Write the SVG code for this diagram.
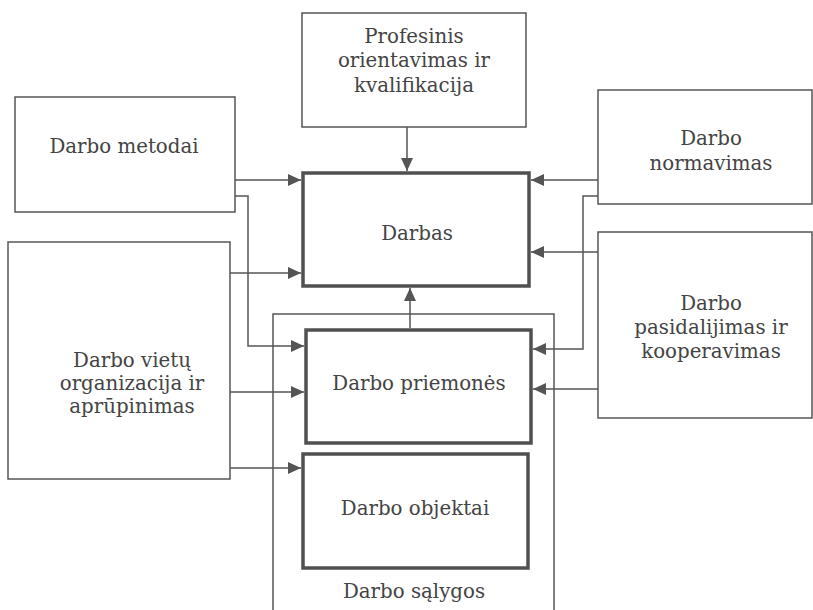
<svg xmlns="http://www.w3.org/2000/svg" width="813" height="610" viewBox="0 0 813 610">
<style>
.box{fill:none;stroke:#555;stroke-width:1.5}
.thick{fill:none;stroke:#505050;stroke-width:3.5}
.c{fill:none;stroke:#555;stroke-width:1.5}
text{font-family:"DejaVu Serif","Liberation Serif",serif;font-size:19.8px;fill:#444;text-anchor:middle}
</style>
<defs>
<marker id="a" markerUnits="userSpaceOnUse" markerWidth="14" markerHeight="12" refX="13" refY="6" orient="auto">
<path d="M0,0 L13,6 L0,12 z" fill="#555"/>
</marker>
</defs>
<rect width="813" height="610" fill="#fff"/>
<g id="salygos">
<path class="box" d="M273,610 V314 H554 V610"/>
<text x="414" y="598">Darbo sąlygos</text>
</g>
<g id="profesinis">
<rect class="box" x="302" y="13" width="224" height="114"/>
<text x="414" y="43">Profesinis</text>
<text x="414" y="67">orientavimas ir</text>
<text x="414" y="92">kvalifikacija</text>
</g>
<g id="metodai">
<rect class="box" x="15" y="97" width="220" height="115"/>
<text x="124" y="153">Darbo metodai</text>
</g>
<g id="vietu">
<rect class="box" x="8" y="242" width="222" height="237"/>
<text x="132" y="367">Darbo vietų</text>
<text x="132" y="390">organizacija ir</text>
<text x="132" y="413">aprūpinimas</text>
</g>
<g id="normavimas">
<rect class="box" x="598" y="90" width="214" height="114"/>
<text x="711" y="145">Darbo</text>
<text x="711" y="170">normavimas</text>
</g>
<g id="pasidalijimas">
<rect class="box" x="598" y="232" width="214" height="186"/>
<text x="711" y="310">Darbo</text>
<text x="711" y="334">pasidalijimas ir</text>
<text x="711" y="358">kooperavimas</text>
</g>
<g id="darbas">
<rect class="thick" x="303" y="173" width="226" height="113"/>
<text x="417" y="240">Darbas</text>
</g>
<g id="priemones">
<rect class="thick" x="306" y="330" width="225" height="113"/>
<text x="419" y="390">Darbo priemonės</text>
</g>
<g id="objektai">
<rect class="thick" x="303" y="454" width="225" height="114"/>
<text x="415" y="515">Darbo objektai</text>
</g>
<g id="connectors">
<path class="c" d="M407,127 V171" marker-end="url(#a)"/>
<path class="c" d="M235,180 H301" marker-end="url(#a)"/>
<path class="c" d="M235,196 H248 V346 H304" marker-end="url(#a)"/>
<path class="c" d="M230,273 H301" marker-end="url(#a)"/>
<path class="c" d="M230,392 H304" marker-end="url(#a)"/>
<path class="c" d="M230,468 H301" marker-end="url(#a)"/>
<path class="c" d="M410,328 V288" marker-end="url(#a)"/>
<path class="c" d="M598,180 H531" marker-end="url(#a)"/>
<path class="c" d="M598,196 H583 V349 H533" marker-end="url(#a)"/>
<path class="c" d="M598,252 H531" marker-end="url(#a)"/>
<path class="c" d="M598,389 H533" marker-end="url(#a)"/>
</g>
</svg>
